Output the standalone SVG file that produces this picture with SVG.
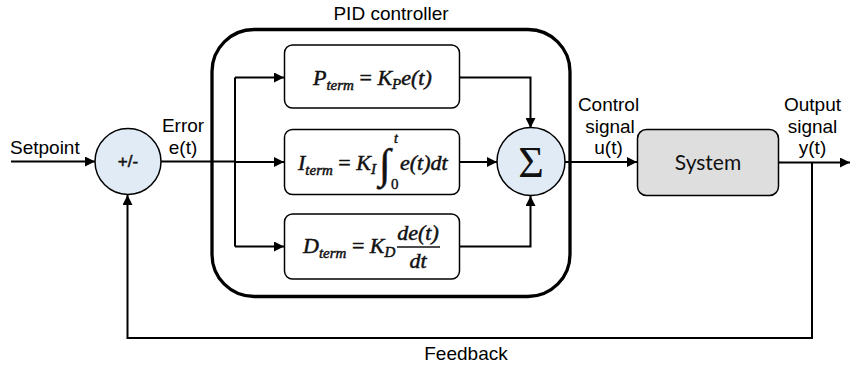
<svg xmlns="http://www.w3.org/2000/svg" width="850" height="369" viewBox="0 0 850 369">
  <defs>
    <marker id="arrow" viewBox="0 0 10 10" refX="10" refY="5" markerWidth="10" markerHeight="10" markerUnits="userSpaceOnUse" orient="auto">
      <path d="M0,0 L10,5 L0,10 z" fill="#000"/>
    </marker>
    <style>
      .lbl { font-family: "Liberation Sans", Arial, sans-serif; font-size: 19px; fill: #000; }
      .math { font-family: "Liberation Serif", "Times New Roman", serif; font-style: italic; fill: #111; stroke: #111; stroke-width: 0.5; }
      .term { fill: #fff; stroke: #000; stroke-width: 1.5; }
      .sum { fill: #e1ebf6; stroke: #000; stroke-width: 1.5; }
      .wire { fill: none; stroke: #000; stroke-width: 2; }
      .arr { marker-end: url(#arrow); }
    </style>
  </defs>
  <rect width="850" height="369" fill="#fff"/>

  <!-- PID controller container -->
  <g id="pid">
    <rect x="212" y="29.5" width="358" height="267" rx="42" ry="42" fill="none" stroke="#000" stroke-width="3.3"/>
    <text class="lbl" x="391" y="20" text-anchor="middle">PID controller</text>
  </g>

  <!-- connectors -->
  <g id="connectors">
    <line class="wire arr" x1="11" y1="161.5" x2="95" y2="161.5"/>
    <line class="wire" x1="161" y1="161.5" x2="235" y2="161.5"/>
    <line class="wire" x1="235" y1="77.5" x2="235" y2="246.5"/>
    <line class="wire arr" x1="235" y1="77.5" x2="284" y2="77.5"/>
    <line class="wire arr" x1="235" y1="162" x2="284" y2="162"/>
    <line class="wire arr" x1="235" y1="246.5" x2="284" y2="246.5"/>
    <polyline class="wire arr" points="460,77.5 530.5,77.5 530.5,128"/>
    <line class="wire arr" x1="460" y1="162" x2="497" y2="162"/>
    <polyline class="wire arr" points="460,246.5 530.5,246.5 530.5,196"/>
    <line class="wire arr" x1="565" y1="162" x2="637" y2="162"/>
    <line class="wire arr" x1="779" y1="162.5" x2="850" y2="162.5"/>
    <polyline class="wire arr" points="812,162.5 812,338 127.5,338 127.5,195"/>
  </g>

  <!-- summing junction -->
  <g id="error-sum">
    <circle class="sum" cx="128" cy="161.5" r="33"/>
    <text x="128" y="167" text-anchor="middle" font-family="'Liberation Sans', Arial, sans-serif" font-size="17" fill="#111" stroke="#111" stroke-width="0.5">+/-</text>
  </g>

  <g id="p-term">
    <rect class="term" x="284.5" y="45" width="175" height="63" rx="8"/>
    <text class="math" x="313" y="85" font-size="22">P<tspan font-size="15" dy="5">term</tspan><tspan font-style="normal" dy="-5"> = </tspan>K<tspan font-size="15" dy="4">P</tspan><tspan dy="-4">e(t)</tspan></text>
  </g>

  <g id="i-term">
    <rect class="term" x="284.5" y="129.5" width="175" height="65" rx="8"/>
    <text class="math" x="298" y="170" font-size="22">I<tspan font-size="15" dy="5">term</tspan><tspan font-style="normal" dy="-5"> = </tspan>K<tspan font-size="15" dy="4">I</tspan></text>
    <text x="379" y="178" font-family="'Liberation Serif', serif" font-size="42" fill="#111" stroke="#111" stroke-width="0.5">∫</text>
    <text class="math" x="394" y="143" font-size="14">t</text>
    <text x="391" y="189" font-family="'Liberation Serif', serif" font-size="15" fill="#111" stroke="#111" stroke-width="0.4">0</text>
    <text class="math" x="400" y="170" font-size="22">e(t)dt</text>
  </g>

  <g id="d-term">
    <rect class="term" x="284.5" y="214" width="175" height="65" rx="8"/>
    <text class="math" x="303" y="253" font-size="22">D<tspan font-size="15" dy="5">term</tspan><tspan font-style="normal" dy="-5"> = </tspan>K<tspan font-size="15" dy="4">D</tspan></text>
    <text class="math" x="418" y="240" text-anchor="middle" font-size="22">de(t)</text>
    <line x1="397" y1="247" x2="440" y2="247" stroke="#111" stroke-width="1.3"/>
    <text class="math" x="418" y="268" text-anchor="middle" font-size="22">dt</text>
  </g>

  <g id="sigma">
    <circle class="sum" cx="531" cy="161.5" r="34"/>
    <text x="531" y="177" text-anchor="middle" font-family="'Liberation Serif', serif" font-size="44" fill="#111">Σ</text>
  </g>

  <g id="system">
    <rect x="637.5" y="129.5" width="141" height="66" rx="9" fill="#dedede" stroke="#000" stroke-width="1.5"/>
    <text x="708" y="170" text-anchor="middle" font-family="Lato, 'Open Sans', sans-serif" font-size="21" fill="#111">System</text>
  </g>

  <!-- signal labels -->
  <g id="labels">
    <text class="lbl" x="10" y="154">Setpoint</text>
    <text class="lbl" x="183" y="132" text-anchor="middle">Error</text>
    <text class="lbl" x="183" y="154" text-anchor="middle">e(t)</text>
    <text class="lbl" x="608.5" y="111" text-anchor="middle">Control</text>
    <text class="lbl" x="610" y="133" text-anchor="middle">signal</text>
    <text class="lbl" x="608.5" y="154" text-anchor="middle">u(t)</text>
    <text class="lbl" x="812.5" y="111" text-anchor="middle">Output</text>
    <text class="lbl" x="812.5" y="133" text-anchor="middle">signal</text>
    <text class="lbl" x="812.5" y="154" text-anchor="middle">y(t)</text>
    <text class="lbl" x="466" y="360" text-anchor="middle">Feedback</text>
  </g>
</svg>
